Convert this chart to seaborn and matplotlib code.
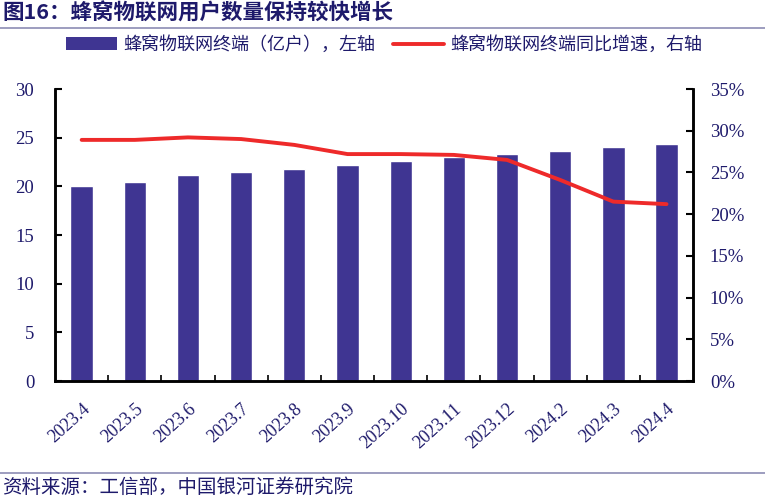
import matplotlib
matplotlib.use("Agg")
import matplotlib.pyplot as plt
import seaborn as sns
import pandas as pd
import numpy as np
from matplotlib.lines import Line2D
from matplotlib.patches import Patch
from matplotlib.ticker import PercentFormatter

categories = ["2023.4", "2023.5", "2023.6", "2023.7", "2023.8", "2023.9",
              "2023.10", "2023.11", "2023.12", "2024.2", "2024.3", "2024.4"]
terminals = [20.0, 20.45, 21.2, 21.5, 21.8, 22.2, 22.6, 23.0, 23.3, 23.6, 24.05, 24.4]
growth = [28.9, 28.9, 29.2, 29.0, 28.3, 27.2, 27.2, 27.1, 26.5, 24.1, 21.5, 21.2]

title = "图16：蜂窝物联网用户数量保持较快增长"
bar_label = "蜂窝物联网终端（亿户），左轴"
line_label = "蜂窝物联网终端同比增速，右轴"
source = "资料来源：工信部，中国银河证券研究院"

sns.set_theme(style="white")
plt.rcParams["font.family"] = ["Noto Sans CJK SC", "DejaVu Sans"]

navy = "#1E1A6B"
bar_color = "#3F3592"
line_color = "#EE2A2A"
serif = "Liberation Serif"

df = pd.DataFrame({"month": categories, "terminals": terminals, "growth": growth})

fig = plt.figure(figsize=(7.65, 5.0), dpi=100)
ax = fig.add_axes([0.072, 0.238, 0.834, 0.584])
sns.barplot(data=df, x="month", y="terminals", color=bar_color, width=0.42,
            saturation=1, ax=ax)
ax2 = ax.twinx()
sns.lineplot(x=np.arange(len(categories)), y=df["growth"], color=line_color,
             linewidth=2.8, ax=ax2)

ax.set_xlim(-0.5, len(categories) - 0.5)
ax.set_ylim(0, 30)
ax.set_yticks(np.arange(0, 31, 5))
ax2.set_ylim(0, 35)
ax2.set_yticks(np.arange(0, 36, 5))
ax2.yaxis.set_major_formatter(PercentFormatter(decimals=0))
ax.set_xlabel("")
ax.set_ylabel("")
ax2.set_xlabel("")
ax2.set_ylabel("")

ax.set_xticks(np.arange(len(categories)))
ax.set_xticklabels(categories, rotation=42, ha="right", rotation_mode="anchor",
                   fontsize=13, color=navy, fontfamily=serif)
ax.tick_params(axis="x", length=0, pad=14)
for lab in ax.get_xticklabels():
    lab.set_x(lab.get_position()[0])
ax.set_xticks(np.arange(len(categories) - 1) + 0.5, minor=True)
ax.tick_params(axis="x", which="minor", direction="in", length=4, width=1.2,
               color="black", bottom=True)
ax.tick_params(axis="y", direction="in", length=5, width=1.5, color="black",
               labelsize=13.5, labelcolor=navy, left=True, pad=15)
ax2.tick_params(axis="y", direction="in", length=5, width=1.5, color="black",
                labelsize=13.5, labelcolor=navy, right=True, pad=12)
for lab in ax.get_yticklabels() + ax2.get_yticklabels():
    lab.set_fontfamily(serif)

for a in (ax, ax2):
    a.spines["top"].set_visible(False)
    for s in ("left", "right", "bottom"):
        a.spines[s].set_color("black")
        a.spines[s].set_linewidth(1.8)
    a.grid(False)

handles = [Patch(facecolor=bar_color, edgecolor="none"),
           Line2D([0], [0], color=line_color, linewidth=2.8)]
fig.legend(handles, [bar_label, line_label], loc="center", ncol=2,
           bbox_to_anchor=(0.502, 0.91), frameon=False, fontsize=13,
           labelcolor=navy, handlelength=2.8, handleheight=0.75,
           columnspacing=1.0, handletextpad=0.35)

fig.text(0.003, 0.974, title, fontsize=15.5, fontweight="bold", color=navy,
         va="center", ha="left")
fig.add_artist(Line2D([0, 1], [0.944, 0.944], color="#8C8CB4", linewidth=1.2,
                      transform=fig.transFigure))
fig.add_artist(Line2D([0, 1], [0.054, 0.054], color="#8C8CB4", linewidth=1.2,
                      transform=fig.transFigure))
fig.text(0.003, 0.026, source, fontsize=14, color=navy, va="center", ha="left",
         style="italic")

fig.savefig("out.png", dpi=100, facecolor="white")
